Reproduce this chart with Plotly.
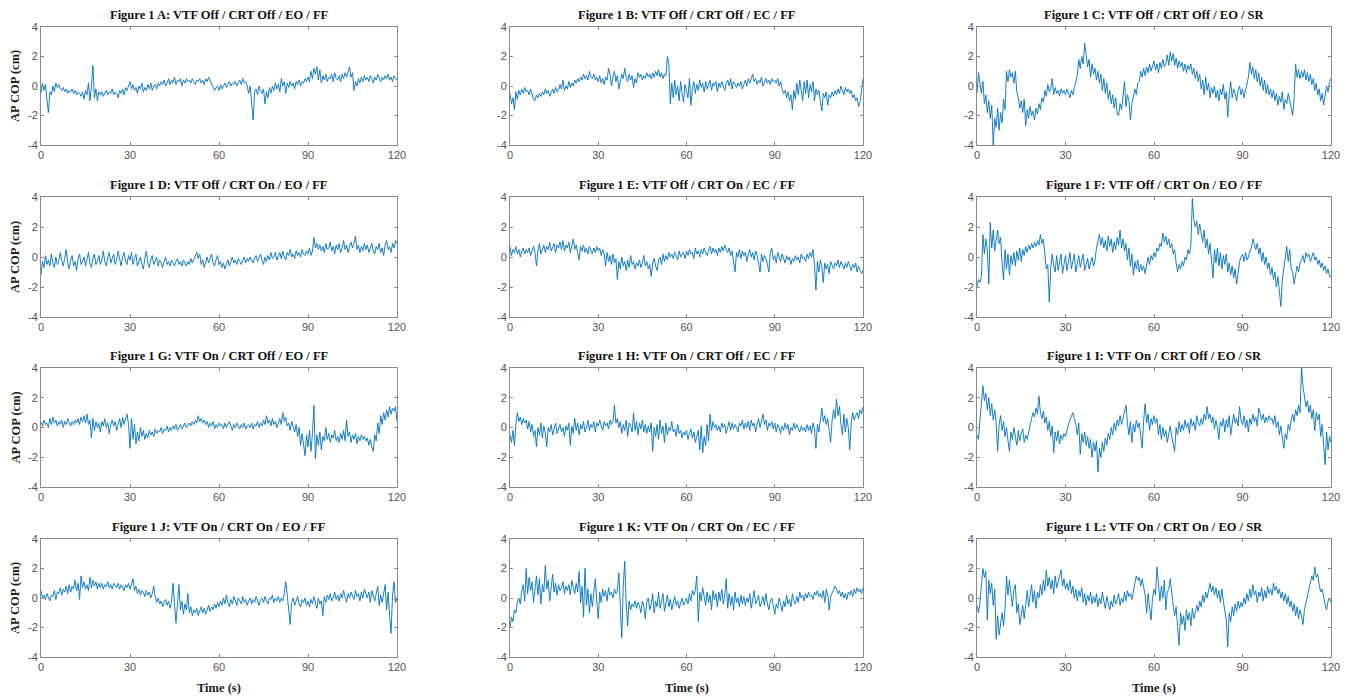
import numpy as np
import plotly.graph_objects as go

# ---------------- data (AP COP in cm, sampled every 0.5 s over 0-120 s) ----------------
titles = [
    "Figure 1 A: VTF Off / CRT Off / EO / FF",
    "Figure 1 B: VTF Off / CRT Off / EC / FF",
    "Figure 1 C: VTF Off / CRT Off / EO / SR",
    "Figure 1 D: VTF Off / CRT On / EO / FF",
    "Figure 1 E: VTF Off / CRT On / EC / FF",
    "Figure 1 F: VTF Off / CRT On / EO / FF",
    "Figure 1 G: VTF On / CRT Off / EO / FF",
    "Figure 1 H: VTF On / CRT Off / EC / FF",
    "Figure 1 I: VTF On / CRT Off / EO / SR",
    "Figure 1 J: VTF On / CRT On / EO / FF",
    "Figure 1 K: VTF On / CRT On / EC / FF",
    "Figure 1 L: VTF On / CRT On / EO / SR",
]

cop_A = [
    -0.5, 0.2, -0.3, 0.1, -0.9, -1.8, -0.4, -0.6, 0.0, -0.4, 0.2, -0.1, 0.1, -0.2, -0.3, -0.1, -0.4, -0.2, -0.5, -0.3,
    -0.4, -0.2, -0.5, -0.3, -0.6, -0.4, -0.5, -0.7, -0.4, -0.9, -0.3, -0.6, 0.2, -1.0, 0.0, 1.4, -0.8, -0.2, -1.0, -0.4,
    -0.6, -0.4, -0.7, -0.5, -0.3, -0.6, -0.4, -0.5, -0.2, -0.6, -0.4, -0.5, -0.8, -0.3, -0.5, -0.2, -0.6, -0.1, -0.3, 0.0,
    0.3, -0.2, 0.1, -0.3, -0.1, -0.5, 0.0, -0.2, 0.2, -0.4, -0.1, -0.3, 0.1, -0.2, 0.2, -0.3, 0.0, 0.1, -0.2, 0.2,
    0.0, 0.3, 0.1, 0.4, 0.0, 0.2, 0.5, 0.1, 0.4, 0.2, 0.6, 0.1, 0.4, 0.3, 0.5, 0.0, 0.4, 0.2, 0.5, 0.3,
    0.4, 0.2, 0.5, 0.3, 0.1, 0.4, 0.3, 0.5, 0.2, 0.4, 0.1, 0.5, 0.3, 0.6, 0.4, 0.2, -0.1, -0.3, -0.1, 0.0,
    -0.3, 0.1, -0.2, 0.0, 0.2, -0.1, 0.1, 0.3, 0.0, 0.2, 0.1, 0.3, 0.0, 0.2, 0.4, 0.1, 0.5, 0.2, 0.3, 0.0,
    -0.5, 0.0, -1.0, -2.3, -0.4, -0.2, -0.6, 0.0, -0.3, -0.5, -0.2, -1.2, -0.4, -0.8, -0.1, -0.5, 0.0, -0.3, 0.2, -0.2,
    0.1, -0.4, 0.5, 0.0, 0.3, -0.5, 0.2, -0.1, 0.3, 0.0, 0.2, -0.2, 0.3, 0.1, 0.4, 0.0, 0.3, 0.2, 0.5, 0.3,
    0.6, 0.3, 1.0, 0.5, 1.2, 0.8, 1.3, 0.4, 1.1, 0.2, 0.7, 0.4, 0.8, 0.3, 0.6, 0.5, 0.8, 0.3, 0.9, 0.5,
    0.4, 0.7, 0.3, 0.8, 0.5, 0.9, 0.6, 1.0, 1.3, 0.6, 0.9, -0.3, 0.3, 0.0, 0.5, 0.2, 0.6, 0.3, 0.7, 0.4,
    0.6, 0.3, 0.7, 0.5, 0.2, 0.6, 0.4, 0.8, 0.5, 0.3, 0.6, 0.4, 0.7, 0.5, 0.8, 0.4, 0.6, 0.3, 0.7, 0.5,
    0.4,
]

cop_B = [
    -0.5, -1.2, -0.8, -1.6, -0.4, -0.9, -0.3, -0.6, -0.2, -0.5, -0.1, -0.4, -0.3, -0.6, -0.2, -0.5, -0.9, -1.0, -0.6, -0.8,
    -0.5, -0.7, -0.4, -0.6, -0.2, -0.5, -0.3, -0.7, -0.4, -0.2, -0.5, -0.1, -0.4, -0.3, 0.1, -0.2, 0.4, -0.3, 0.0, -0.2,
    0.3, -0.1, 0.2, 0.0, 0.4, 0.2, 0.5, 0.3, 0.6, 0.4, 0.8, 0.5, 0.7, 0.4, 1.0, 0.6, 0.5, 0.8, 0.4, 0.6,
    0.3, 0.7, 0.2, 0.5, 0.1, 0.6, 0.4, 1.2, 0.8, 0.0, 0.6, 1.0, 0.3, 0.7, -0.2, 0.4, 0.8, 0.5, 1.2, 0.6,
    0.3, 0.8, 0.4, 0.7, -0.1, 0.5, 0.2, 0.9, 0.6, 0.8, 0.4, 0.7, 0.5, 0.9, 0.6, 0.8, 0.5, 0.9, 0.6, 1.0,
    0.7, 1.1, 0.6, 0.9, 0.5, 0.8, 0.7, 2.0, 1.5, -1.2, 0.2, -0.8, 0.4, -0.6, 0.0, -1.0, 0.3, -0.5, -1.1, 0.1,
    -0.4, -0.8, 0.5, -1.3, -0.2, 0.3, -0.5, 0.1, -0.3, 0.4, -0.1, 0.2, -0.4, 0.3, -0.2, 0.1, 0.4, -0.3, 0.2, 0.0,
    0.3, -0.4, 0.2, -0.1, 0.3, 0.0, -0.3, 0.2, 0.4, 0.0, 0.5, -0.2, 0.3, 0.1, -0.1, 0.2, 0.0, 0.3, -0.2, 0.1,
    0.4, 0.0, 0.5, 0.2, 0.6, 0.8, 0.3, 0.5, 0.1, 0.4, 0.2, 0.6, 0.0, 0.3, 0.5, 0.2, 0.4, 0.1, 0.5, 0.3,
    0.4, 0.2, 0.5, 0.0, 0.3, -0.2, -0.5, -0.3, -0.8, -0.4, -1.0, -0.6, -1.6, -0.3, -0.9, 0.2, -0.6, 0.4, -0.4, -1.0,
    0.3, -0.5, 0.4, -0.8, 0.1, -0.4, 0.3, -1.0, -0.2, -0.6, -0.3, -0.9, -1.7, -0.5, -0.8, -0.4, -1.3, -0.6, -0.8, -0.4,
    -0.7, -0.3, -0.6, -0.2, -0.5, 0.0, -0.3, -0.6, -0.1, -0.4, -0.2, -0.5, -0.3, -0.8, -0.6, -1.0, -0.8, -1.4, -1.1, -0.2,
    0.5,
]

cop_C = [
    -0.5, 0.9, 0.2, -0.5, 0.3, -1.2, -0.6, -1.8, -1.0, -2.2, -1.3, -4.0, -2.2, -2.8, -1.5, -3.0, -1.8, -2.5, -0.9, -1.6,
    1.0, 0.3, 1.1, 0.6, 0.9, 0.2, 1.0, -0.4, -0.8, -1.5, -1.0, -1.8, -0.9, -2.7, -1.6, -2.2, -1.4, -2.0, -1.7, -2.3,
    -1.5, -1.9, -1.2, -1.6, -0.8, -1.1, -0.3, -0.7, 0.1, -0.4, -0.2, 0.5, -0.6, -0.1, -0.5, -0.3, -0.7, -0.2, -0.5, -0.3,
    -0.6, -0.2, -0.5, -0.8, -0.3, -0.6, -0.1, 0.3, 0.7, 1.8, 1.2, 2.0, 1.5, 2.9, 2.0, 1.3, 1.8, 0.6, 1.5, 0.8,
    1.2, 0.4, 1.0, 0.2, 0.8, -0.3, 0.5, -0.5, 0.2, -0.9, -0.3, -1.2, -0.6, -1.5, -0.8, -1.8, -2.0, -1.2, -1.6, -0.8,
    0.3, -1.4, -0.6, -1.0, -2.3, -1.2, -0.8, -0.2, -0.6, 0.2, 0.3, 1.0, 0.6, 1.2, 0.7, 1.3, 0.9, 1.5, 1.0, 1.4,
    1.7, 1.1, 1.5, 0.9, 1.6, 1.2, 1.8, 1.3, 1.5, 2.1, 1.4, 2.3, 1.7, 2.2, 1.4, 1.9, 1.2, 1.7, 1.3, 1.6,
    1.0, 1.5, 0.9, 1.4, 1.1, 1.5, 0.8, 1.2, 0.5, 1.0, 0.3, 0.8, -0.2, 0.4, -0.6, 0.6, -0.3, 0.2, -0.8, -0.1,
    -0.5, 0.0, -0.8, -0.3, -1.0, -0.2, -0.6, 0.1, -0.9, -0.4, -2.1, -0.6, 0.3, -0.8, -0.2, -0.5, -1.0, -0.3, 0.0, -0.6,
    -0.2, -0.8, -0.4, 0.2, 0.6, 1.6, 0.8, 1.3, 0.5, 1.1, 0.3, 0.9, 0.0, 0.6, -0.3, 0.4, -0.5, 0.1, -0.6, -0.2,
    -0.8, -0.3, -1.0, -0.5, -1.3, -0.7, -1.1, -0.4, -1.6, -0.9, -1.2, -0.5, -1.0, -1.4, -2.0, -0.8, 1.5, 0.6, 1.1, 0.5,
    1.0, 0.6, 1.1, 0.4, 0.9, 0.3, 0.8, 0.1, 0.5, -0.3, 0.2, -0.6, -0.2, -1.0, -0.5, -1.3, -0.6, 0.0, -0.4, 0.3,
    0.5,
]

cop_D = [
    -1.2, -0.3, -0.7, 0.1, -0.5, -0.2, -0.6, 0.2, -0.4, -0.7, 0.0, -0.5, -0.3, 0.3, -0.2, -0.6, -0.1, 0.5, -0.4, -0.8,
    -0.2, 0.1, -0.6, -0.3, -0.9, -0.1, 0.2, -0.5, -0.3, 0.0, -0.6, -0.2, 0.3, -0.4, -0.7, -0.1, 0.2, -0.5, -0.3, 0.1,
    -0.5, -0.2, 0.4, -0.3, -0.6, 0.0, 0.3, -0.4, -0.1, 0.2, -0.5, -0.2, 0.4, -0.1, -0.6, 0.0, 0.3, -0.3, -0.5, 0.1,
    -0.2, 0.3, -0.5, -0.1, 0.2, -0.6, -0.3, 0.0, -0.5, -0.8, -0.1, 0.4, -0.4, -0.7, -0.2, 0.1, -0.5, -0.3, 0.0, -0.6,
    -0.2, -0.4, -0.7, -0.3, 0.0, -0.5, -0.3, -0.6, -0.2, -0.4, -0.6, -0.3, -0.1, -0.5, -0.3, -0.6, -0.2, -0.4, -0.6, -0.3,
    -0.5, -0.1, -0.4, -0.2, 0.0, 0.3, -0.1, 0.2, -0.5, -0.2, -0.7, -0.3, 0.0, -0.4, -0.1, 0.2, -0.4, -0.6, -0.2, 0.1,
    -0.5, -0.3, -0.7, -0.4, -0.8, -0.5, -0.2, -0.6, -0.3, 0.0, -0.4, -0.2, -0.5, -0.1, -0.3, -0.5, -0.2, 0.0, -0.4, -0.1,
    -0.3, 0.0, -0.2, -0.4, -0.1, 0.1, -0.3, -0.1, 0.2, -0.2, -0.5, 0.0, -0.3, 0.1, -0.2, 0.3, -0.1, 0.0, 0.3, -0.2,
    0.1, 0.3, -0.1, 0.4, 0.0, -0.2, 0.3, 0.1, 0.5, 0.0, 0.2, -0.1, 0.4, 0.1, 0.3, 0.0, 0.5, 0.2, 0.1, 0.4,
    0.2, 0.6, 0.1, 0.4, 1.3, 0.6, 0.9, 0.5, 0.8, 0.4, 0.7, 0.3, 0.9, 0.5, 0.6, 1.0, 0.4, 0.7, 0.2, 0.8,
    0.5, 0.9, 0.3, 0.6, 1.1, 0.5, 0.8, 0.3, 0.7, 1.0, 0.6, 0.9, 1.4, 0.5, 0.8, 0.3, 0.7, 0.4, 0.9, 0.5,
    0.8, 0.3, 0.6, 0.9, 0.4, 0.2, 0.7, 0.5, 0.9, 0.3, 0.6, 0.1, 0.8, 1.1, 0.5, 0.7, 0.3, 0.9, 0.6, 1.1,
    0.9,
]

cop_E = [
    0.7, 0.1, 0.5, 0.3, 0.7, 0.2, 0.5, 0.0, 0.4, 0.6, 0.2, 0.5, 0.3, 0.6, 0.1, 0.4, 0.7, 0.3, -0.6, 0.4,
    0.9, 0.2, 0.6, 0.8, 0.3, 0.7, 0.5, 1.0, 0.4, 0.7, 0.9, 0.3, 0.8, 0.6, 1.0, 0.5, 1.1, 0.4, 0.8, 0.6,
    1.0, 0.3, 0.7, 1.2, 0.5, 0.8, 0.3, -0.2, 0.7, 0.4, 0.8, 0.3, 0.6, 0.2, 0.7, 0.5, 0.2, 0.6, 0.3, 0.7,
    0.4, 0.6, 0.1, 0.5, 0.2, -0.6, 0.3, -0.3, 0.1, -0.5, 0.2, -0.4, -0.1, -1.5, -0.3, -0.8, 0.0, -0.6, -0.3, -0.9,
    -0.2, -0.7, 0.1, -0.5, -0.3, -0.8, -0.4, -0.6, -0.2, -0.7, -0.4, 0.1, -0.6, -0.3, -0.8, -0.5, -1.3, -0.4, -0.1, -0.6,
    -0.9, -0.2, 0.0, -0.5, 0.2, -0.3, 0.1, -0.2, 0.3, 0.0, 0.2, -0.1, 0.3, 0.1, -0.2, 0.4, 0.0, 0.2, 0.3, -0.1,
    0.4, 0.1, 0.5, 0.2, 0.3, -0.1, 0.6, 0.2, 0.4, 0.0, 0.5, 0.2, 0.6, 0.3, 0.1, 0.5, 0.7, 0.2, 0.6, 0.3,
    0.5, 0.1, 0.6, 0.3, 0.7, 0.4, 0.8, 0.5, 0.3, 0.6, 0.1, 0.4, -0.2, -1.0, 0.3, 0.0, 0.5, -0.1, 0.4, 0.1,
    0.3, -0.3, 0.2, 0.5, 0.0, 0.3, -0.2, 0.4, 0.1, -0.4, -1.0, 0.2, -0.3, 0.1, -0.1, -0.5, -1.0, 0.3, 0.6, -0.2,
    0.1, -0.4, 0.3, 0.0, -0.3, 0.2, -0.1, -0.4, 0.1, -0.2, 0.0, -0.5, -0.1, -0.3, 0.1, -0.2, 0.0, -0.4, 0.2, -0.1,
    0.0, -0.3, 0.2, -0.1, 0.3, 0.0, 0.5, -0.5, -2.2, -0.3, -1.0, -0.2, -0.7, -1.7, -0.4, -0.8, -0.5, -1.1, -0.3, -0.6,
    -0.8, -0.4, -0.6, -0.2, -0.7, -0.3, -0.5, -0.8, -0.4, -0.7, -0.3, -0.6, -0.9, -0.5, -0.7, -0.4, -1.0, -0.6, -0.8, -1.1,
    -0.9,
]

cop_F = [
    -2.0, -1.5, -1.7, -1.3, 1.5, 0.2, 1.2, 0.5, -1.8, 2.3, 0.6, 1.8, 0.4, 1.3, 1.8, 0.9, 1.3, -0.4, -1.5, 0.5,
    -0.8, 0.2, -1.2, 0.1, -0.5, 0.3, -0.6, 0.4, -0.2, 0.6, -0.3, 0.5, 0.1, 0.7, 0.3, 0.8, 0.5, 0.9, 0.6, 1.0,
    0.7, 1.1, 0.8, 1.5, 0.9, 1.2, 0.3, -0.8, -0.5, -3.0, -0.7, 0.2, -0.6, -1.0, 0.1, -0.9, -0.3, 0.2, -1.1, -0.4,
    0.1, -0.9, -0.3, 0.3, -0.8, -0.4, 0.2, -1.0, -0.5, 0.1, -0.7, -0.2, 0.2, -0.9, -0.4, -0.1, -0.8, -0.3, 0.0, -0.6,
    -0.2, 0.6, 1.2, 1.5, 0.8, 1.3, 0.6, 1.1, 0.4, 1.4, 0.7, 1.2, 0.3, 1.0, 0.5, 1.3, 0.8, 1.8, 0.6, 1.2,
    0.4, 0.9, -0.2, 0.6, -0.6, 0.2, -1.2, -0.3, -0.8, -0.2, -1.0, -0.5, -0.9, -0.6, -1.1, -0.4, 0.0, -0.5, 0.1, -0.2,
    0.3, 0.0, 0.6, 0.4, 0.9, 0.7, 1.6, 1.0, 1.4, 0.8, 1.2, 0.6, 0.9, 0.2, 0.5, -0.4, -1.0, -0.5, -0.8, -0.3,
    -0.6, 0.0, -0.2, 0.5, 0.2, 0.8, 3.9, 2.5, 2.0, 2.4, 1.5, 2.2, 1.6, 1.0, 1.8, 0.6, 1.2, 0.2, 0.9, -0.3,
    -1.4, 0.5, -0.4, 0.6, -0.6, 0.3, -0.8, 0.1, -0.5, 0.2, -1.0, -0.4, -1.2, -0.6, -1.4, -0.8, -1.8, -1.1, -0.3, 0.0,
    0.2, -0.3, 0.3, -0.2, 0.0, 0.4, 0.6, 1.2, 0.8, 0.5, 0.9, 0.2, 0.6, -0.3, 0.3, -0.5, 0.0, -0.8, -0.4, -1.2,
    -0.7, -1.5, -1.0, -2.0, -1.3, -2.5, -3.3, -1.5, -0.8, 0.0, 0.7, -0.3, 0.5, -0.8, -1.0, -1.8, -1.2, -0.6, -1.0, -0.4,
    -0.2, 0.1, -0.4, 0.3, 0.0, 0.2, -0.3, 0.1, 0.3, -0.2, 0.0, -0.5, -0.2, -0.7, -0.4, -0.9, -0.6, -1.1, -0.8, -1.3,
    -1.3,
]

cop_G = [
    0.4, 0.1, 0.5, 0.2, 0.3, 0.0, 0.6, 0.2, 0.7, 0.3, 0.5, 0.1, 0.4, 0.2, 0.5, 0.0, 0.4, 0.2, 0.6, 0.3,
    0.1, 0.4, 0.2, 0.5, 0.3, 0.6, 0.2, 0.7, 0.4, 0.8, 0.3, 0.9, 0.2, 0.5, -0.7, 0.6, -0.2, 0.4, 0.0, 0.3,
    -0.3, 0.4, 0.1, 0.6, 0.0, 0.3, -0.4, 0.2, 0.5, 0.1, 0.4, -0.2, 0.3, 0.6, 0.0, 0.7, 0.2, 0.5, 0.9, 0.2,
    -1.4, 0.6, -0.8, 0.2, -1.1, -0.3, -0.9, 0.0, -0.6, -0.2, -0.8, -0.4, -0.7, -0.2, -0.5, -0.3, -0.6, -0.1, -0.4, -0.2,
    -0.3, 0.0, -0.4, -0.1, -0.2, 0.1, -0.3, 0.0, -0.2, 0.1, -0.1, 0.2, -0.2, 0.0, 0.2, -0.1, 0.1, 0.3, 0.0, 0.2,
    0.3, 0.1, 0.4, 0.2, 0.5, 0.3, 0.8, 0.4, 0.6, 0.3, 0.5, 0.2, 0.4, 0.0, 0.3, 0.1, 0.4, -0.1, 0.2, 0.0,
    0.3, 0.1, 0.2, -0.1, 0.3, 0.0, 0.2, 0.4, 0.1, -0.2, 0.2, 0.0, 0.3, 0.1, -0.1, 0.2, 0.0, 0.3, -0.1, 0.1,
    0.2, 0.0, 0.3, -0.1, 0.2, 0.1, 0.4, 0.0, 0.3, 0.1, 0.5, 0.2, 0.8, 0.3, 0.5, 0.1, 0.6, 0.2, 0.4, 0.0,
    0.3, 0.6, 0.2, 1.0, 0.4, 0.7, 0.1, 0.3, -0.2, 0.4, 0.1, -0.3, 0.2, -0.6, 0.0, -1.2, -0.4, -1.0, -1.9, -0.5,
    -1.3, -0.2, -1.6, -0.4, 1.5, -2.1, -0.5, -1.2, -0.3, -1.5, -0.6, -0.9, 0.0, -0.8, -0.4, -1.0, -0.5, -0.7, -0.2, -0.9,
    -0.6, -1.0, -0.4, -0.8, -0.2, -0.9, 0.5, -0.6, -0.3, -1.0, -0.5, -0.8, -0.4, -1.1, -0.6, -0.9, -0.5, -0.8, -0.6, -0.9,
    -0.7, -1.2, -0.8, -1.3, -1.6, -0.5, -0.9, 0.3, -0.4, 0.8, 0.2, 1.0, 0.5, 1.2, 0.7, 1.4, 0.9, 1.3, 1.1, 1.4,
    0.4,
]

cop_H = [
    -0.5, -1.0, -0.2, -1.2, 0.2, 1.0, 0.4, 0.7, 0.2, 0.6, 0.3, 0.5, -0.1, 0.4, -0.3, 0.2, -0.6, -0.2, -1.3, 0.0,
    -0.5, 0.3, -0.7, 0.1, -0.4, -1.3, 0.0, -0.3, 0.2, -0.5, -0.1, 0.3, -0.4, -0.1, 0.2, -0.3, 0.0, -0.6, 0.1, -0.2,
    0.3, -1.2, 0.1, -0.4, 0.6, -0.2, 0.3, -0.5, 0.2, -0.1, 0.4, -0.3, 0.0, 0.5, -0.2, 0.2, 0.0, 0.4, -0.3, 0.3,
    0.1, 0.5, 0.2, -0.2, 0.4, 0.1, 0.3, -0.1, 0.5, 0.2, 0.4, 1.5, 0.3, 0.6, 0.0, 0.4, -0.4, 0.2, -0.2, 0.5,
    -0.6, 0.3, 0.1, -0.3, 1.0, -0.2, 0.4, -0.5, 0.3, -0.1, 0.5, -0.3, 0.2, -0.4, 0.1, -0.3, 0.3, -1.6, 0.0, -0.6,
    0.2, -0.8, 0.5, -0.4, 0.1, -1.0, 0.3, -0.5, 0.0, -0.2, 0.4, -0.3, -0.1, -0.6, 0.2, -0.4, -0.2, -0.7, -0.3, -0.5,
    -0.2, -0.8, -0.4, -0.1, -0.7, -0.3, -1.0, -0.5, -0.2, -1.5, 0.1, -1.7, -0.6, -1.2, 0.2, -0.9, 0.9, -0.2, 0.4, 0.0,
    0.2, -0.2, 0.1, -0.3, 0.3, 0.0, 0.2, -0.4, 0.1, 0.4, -0.2, 0.3, -0.1, 0.2, 0.0, -0.3, 0.3, 0.1, 0.5, -0.1,
    0.3, 0.0, 0.4, -0.2, 0.5, 0.1, 0.3, -0.3, 0.2, 0.6, 0.0, 0.4, 0.9, 0.2, 0.5, -0.2, 0.3, 0.1, 0.4, -0.1,
    0.3, -0.3, 0.2, 0.0, -0.4, 0.1, -0.2, 0.3, -0.1, 0.2, -0.5, 0.0, -0.2, 0.3, -0.1, 0.2, 0.0, -0.3, 0.1, -0.2,
    0.0, -0.3, 0.2, -0.2, 0.1, -0.4, 0.3, -0.1, -1.4, 0.2, -0.3, 0.6, 1.3, 0.4, 0.8, 0.2, 0.6, -0.2, -1.0, 0.5,
    1.2, 0.6, 1.9, 0.8, 1.4, 0.2, -0.5, 0.9, -0.3, 0.6, 0.0, -1.5, 0.3, 1.0, 0.5, 0.8, 1.0, 0.6, 1.2, 0.9,
    1.4,
]

cop_I = [
    -0.5, -0.8, 0.5, 1.5, 2.8, 1.8, 2.3, 1.2, 2.0, 0.8, 1.6, 0.5, 1.2, 0.3, -1.6, 0.2, 0.8, -0.2, 0.4, -0.6,
    0.0, -0.9, -1.6, -0.3, -0.8, 0.0, -0.5, -1.2, -0.2, -0.9, -0.4, -0.1, -1.0, -0.5, -0.8, -0.3, 0.3, 0.6, 1.0, 0.7,
    1.3, 0.9, 2.1, 1.0, 0.6, 1.1, 0.3, 0.7, -0.2, 0.4, -0.6, 0.1, -1.7, -0.3, -0.9, -0.2, -1.1, -0.5, -0.8, -0.4,
    -0.6, -0.1, 0.2, 0.5, 0.8, 1.0, 0.6, 0.2, -0.5, 0.3, -1.8, -0.4, -1.0, -0.3, -1.2, -0.6, -1.4, -0.8, -2.0, -1.0,
    -1.6, -0.9, -3.0, -1.4, -2.0, -1.0, -1.6, -0.7, -1.2, -0.4, -0.8, 0.0, -0.5, 0.3, -0.2, 0.5, 0.1, 0.8, 0.2, 0.6,
    1.0, 1.5, 0.3, -0.5, 0.4, -1.0, 0.2, -0.3, 0.5, 0.0, 0.3, -0.4, -1.4, 0.5, 1.6, 0.3, 0.9, -0.2, 0.6, 0.2,
    0.8, 0.3, 0.6, -0.5, 0.2, -0.8, 0.0, -0.6, -0.2, -1.0, -0.4, 0.1, -0.6, -1.0, -1.6, 0.0, -0.5, 0.4, -0.3, 0.2,
    -0.2, 0.5, 0.0, 0.3, -0.4, 0.6, 0.1, 0.4, -0.2, 0.8, 0.3, 0.1, 0.6, 0.2, 0.9, 0.5, 1.4, 0.6, 0.9, 0.3,
    0.7, -0.1, 0.5, 0.0, -0.8, 0.4, 0.1, 0.6, -0.3, 0.5, 0.0, 0.8, -0.5, 0.2, 0.9, 0.3, 0.6, 0.1, 1.4, 0.5,
    0.2, 0.8, 0.0, 0.5, -0.3, 0.6, 0.2, 0.9, 0.4, 0.7, 0.1, 1.3, 0.8, 0.5, 0.9, 0.3, 0.7, 0.4, 0.8, 0.5,
    0.6, 0.2, 0.8, 0.0, 0.4, -0.5, 0.1, -0.8, -1.4, -0.4, -0.8, 0.2, -0.2, 0.5, 0.9, 0.4, 1.2, 0.8, 1.5, 1.0,
    4.0, 2.8, 2.0, 1.4, 1.8, 1.0, 1.5, 0.6, 1.2, -0.2, 1.0, 0.5, 0.9, -0.6, 0.2, -1.2, -2.5, -0.3, -1.5, -0.6,
    -1.0,
]

cop_J = [
    0.5, 0.0, 0.2, -0.1, 0.3, 0.0, -0.2, 0.2, 0.1, 0.5, -0.1, 0.4, 0.3, 0.7, 0.2, 0.6, 0.4, 0.8, 0.3, 0.9,
    0.4, 0.8, 0.6, 1.2, 0.5, 1.0, -0.1, 1.5, 0.7, 1.1, 0.6, 0.9, 0.5, 1.4, 0.7, 1.2, 0.8, 1.1, 0.6, 1.0,
    0.7, 1.0, 0.6, 0.9, 0.8, 1.1, 0.7, 0.9, 0.6, 1.0, 0.8, 0.7, 1.0, 0.6, 0.9, 0.7, 0.5, 0.9, 0.7, 1.0,
    0.6, 0.9, 1.3, 0.5, 0.8, 0.3, 0.6, 0.2, 0.5, 0.4, 0.1, 0.5, 0.2, 0.4, 0.0, 0.3, 0.8, 0.1, -0.3, 0.0,
    -0.4, -0.2, -0.6, -0.3, -0.1, -0.5, -0.2, -0.7, -0.3, 1.0, -0.5, -1.7, -0.4, 0.9, -0.8, -0.2, -1.1, -0.4, -0.8, 0.3,
    -1.0, -0.6, -1.2, -0.8, -1.0, -0.7, -1.2, -0.9, -0.6, -1.0, -0.7, -1.1, -0.8, -0.5, -0.9, -0.6, -0.8, -0.4, -0.7, -0.3,
    -0.6, -0.2, -0.5, 0.0, -0.4, 0.2, -0.3, -0.6, -0.1, -0.4, 0.1, -0.3, -0.5, 0.0, -0.2, -0.4, 0.1, -0.3, -0.1, -0.5,
    -0.2, 0.0, -0.4, -0.1, -0.3, 0.1, -0.2, -0.5, -0.1, 0.0, -0.3, 0.1, -0.2, -0.4, 0.0, -0.1, 0.2, -0.3, 0.0, -0.2,
    0.1, -0.3, 0.0, -0.2, 0.3, 1.1, 0.2, -1.0, -1.8, -0.3, 0.0, -0.5, -0.2, 0.1, -0.4, -0.6, -0.1, -0.3, 0.0, -0.5,
    -0.2, -0.6, -0.1, -0.4, 0.1, -0.3, -0.7, 0.0, -0.4, -0.2, -1.2, 0.1, -0.3, 0.2, -0.1, 0.3, -0.2, 0.0, 0.4, -0.1,
    0.2, -0.2, 0.3, 0.0, 0.5, 0.1, -0.3, 0.3, 0.0, 0.4, 0.2, -0.1, 0.5, 0.1, 0.3, -0.2, 0.4, 0.0, 0.6, 0.2,
    0.0, 0.4, -0.3, 0.5, 0.1, -0.2, 0.3, 0.8, -0.5, 0.2, -0.3, 0.5, 0.9, -0.8, 0.4, -1.2, -2.4, 0.2, 1.1, -0.3,
    0.0,
]

cop_K = [
    -2.0, -1.3, -1.6, -0.8, -1.0, -0.3, 0.0, -0.4, 0.5, 0.9, -0.2, 2.0, 0.3, 1.4, 0.5, 1.1, -0.3, 0.8, 1.5, 0.2,
    1.3, -0.4, 0.9, 0.4, 2.2, 0.6, 1.2, -0.2, 0.8, 1.6, 0.4, 1.0, 0.2, 0.9, 0.5, 0.7, 1.1, 0.3, 0.8, 0.5,
    0.9, 0.2, 1.2, 0.6, 0.3, 1.0, 0.4, 1.8, -0.3, 0.8, -1.3, 2.0, -0.5, 0.6, -1.0, 0.3, -0.6, 0.4, 1.3, -0.2,
    -1.4, 0.4, -0.3, 0.6, 0.1, 0.5, -0.2, 0.7, 0.2, 0.4, 0.0, 0.6, 0.3, 0.5, 1.7, -0.5, -2.7, 0.8, 2.5, -0.4,
    -1.9, -0.2, -0.8, -0.4, -0.6, -0.2, -0.7, -0.3, -0.5, -1.0, -0.2, -0.6, -1.4, -0.3, 0.0, -0.8, -0.4, 0.3, -1.0, -0.2,
    -0.6, 0.4, -0.7, -0.2, 0.3, -0.9, -0.4, 0.2, -0.6, -0.1, -0.8, -0.3, 0.1, -0.5, -0.2, -0.7, -0.4, 0.0, -0.5, -0.2,
    0.0, -0.4, 0.3, -0.2, 0.5, 0.2, 0.6, 1.5, -1.6, 0.4, -0.2, 0.7, 0.0, -0.5, 0.4, -0.3, 0.2, -0.8, 0.5, -0.1,
    0.3, -0.6, 0.4, -0.2, 0.6, -0.4, 0.2, 1.3, -0.7, 0.3, -0.5, 0.1, -0.8, 0.4, -0.3, 0.0, -0.6, 0.2, -0.4, 0.1,
    -0.5, 0.0, -0.3, 0.3, -0.7, -0.1, 0.5, -0.4, -0.2, 0.2, -0.6, -0.3, 0.1, -0.5, 0.3, -0.4, -0.8, -0.2, 0.0, -0.5,
    -1.1, -0.4, -0.7, 0.0, -0.5, -0.9, -0.2, -0.6, 0.2, -0.4, -0.1, -0.6, 0.3, -0.2, -0.4, 0.1, -0.3, 0.4, 0.0, 0.2,
    -0.2, 0.3, 0.0, 0.4, 0.1, 0.2, -0.1, 0.4, 0.2, 0.5, 0.1, 0.3, 0.0, 0.5, -0.3, 0.6, 0.2, -0.8, 0.1, 0.3,
    0.5, 0.8, 0.6, 0.3, 0.5, 0.1, 0.4, 0.0, 0.3, -0.1, 0.4, 0.2, 0.5, 0.1, 0.6, 0.3, 0.7, 0.4, 0.6, 0.3,
    0.7,
]

cop_L = [
    -0.5, -1.0, -0.3, 0.8, 2.0, 1.4, 1.8, -1.5, 1.2, 0.3, 1.0, -0.5, 0.6, -2.8, -1.2, -2.5, -1.6, -1.0, -1.9, -0.8,
    1.5, 0.2, 1.2, 0.0, -0.6, 0.6, 0.9, -1.0, -0.4, -1.8, -1.2, -0.5, -1.4, -0.2, 0.5, -0.6, 0.2, 0.9, -0.3, 0.5,
    -0.7, 0.4, 0.0, 0.9, 0.2, 1.2, 0.5, 1.9, 0.8, 1.4, 0.6, 1.2, 0.3, 1.5, 0.7, 1.1, 1.6, 1.9, 0.8, 1.3,
    0.6, 1.0, 0.5, 1.2, 0.3, 0.8, 0.0, 0.6, -0.2, 0.5, 0.1, 0.7, -0.3, 0.3, -0.5, 0.2, -0.2, 0.4, -0.4, 0.1,
    -0.3, 0.3, -0.6, 0.0, -0.4, 0.4, -0.2, -0.7, 0.1, -0.5, -0.8, -0.2, -0.6, 0.2, -0.4, -0.1, 0.3, -0.5, 0.0, -0.3,
    0.4, -0.2, 0.5, 0.1, 0.3, -0.1, 0.6, 1.0, 1.5, 1.2, 1.4, 0.8, 1.3, 0.6, 0.2, -1.0, 0.3, -0.6, -1.5, 0.0,
    0.6, 0.2, 2.1, 1.0, -0.2, 0.8, 0.0, 1.2, -0.8, 0.4, 0.6, 1.3, 0.2, -0.5, -1.2, -0.6, -2.0, -3.2, -1.0, -1.8,
    -1.2, -2.2, -0.8, -1.5, -1.0, -1.9, -0.7, -1.4, -1.0, -0.5, -0.9, -0.2, -0.6, 0.2, -0.3, 0.4, 0.0, 0.6, 1.0, 0.4,
    0.8, 0.2, 0.7, 0.0, 0.5, -0.3, 0.6, -0.2, -1.0, -1.5, -3.3, -1.0, -1.6, -0.6, -1.2, -0.4, -0.9, -0.2, -0.7, -0.3,
    -0.6, 0.0, -0.4, 0.3, -0.2, 0.6, 0.0, 0.9, 0.2, 0.5, -0.3, 0.4, 0.1, 0.7, -0.2, 0.5, 0.0, 0.8, 0.3, 0.6,
    0.2, 1.0, 0.5, 0.8, 0.3, 0.6, 0.0, 0.4, -0.2, 0.3, -0.4, 0.1, -0.6, -0.2, -0.9, -0.4, -1.2, -0.6, -1.4, -0.8,
    -1.2, -1.8, -0.8, -0.3, 0.2, 0.6, 1.0, 1.5, 1.2, 2.1, 1.4, 1.6, 0.9, 0.4, 0.6, 0.0, -0.4, -0.8, -0.2, 0.0,
    -0.3,
]

series = [cop_A, cop_B, cop_C, cop_D, cop_E, cop_F, cop_G, cop_H, cop_I, cop_J, cop_K, cop_L]

x_ticks = [0, 30, 60, 90, 120]
x_ticktext = ["0", "30", "60", "90", "120"]
y_ticks = [-4, -2, 0, 2, 4]
y_ticktext = ["-4", "-2", "0", "2", "4"]
y_label = "AP COP (cm)"
x_label = "Time (s)"

# ---------------- layout geometry (pixels) ----------------
W, H = 1356, 700
cols_px = [(41, 397), (510, 863), (977, 1331)]
rows_px = [(27, 145), (197, 317), (368, 487), (539, 657)]

LINE_COLOR = "#0072BD"
AXIS_COLOR = "#8a8a8a"
TICK_FONT = dict(family="Liberation Sans, Arial, sans-serif", size=11, color="#555555")
SERIF_BOLD = "Liberation Serif, Times New Roman, serif"

fig = go.Figure()
layout = dict(
    width=W, height=H,
    margin=dict(l=0, r=0, t=0, b=0, autoexpand=False),
    paper_bgcolor="white", plot_bgcolor="white",
    showlegend=False,
)
annotations = []

for i, (title, vals) in enumerate(zip(titles, series)):
    r, c = divmod(i, 3)
    x0, x1 = cols_px[c]
    y0, y1 = rows_px[r]
    t = np.linspace(0, 120, len(vals))
    idx = "" if i == 0 else str(i + 1)
    fig.add_trace(go.Scatter(
        x=t, y=vals, mode="lines",
        line=dict(color=LINE_COLOR, width=0.9),
        xaxis="x" + idx, yaxis="y" + idx,
        hoverinfo="skip",
    ))
    common = dict(
        showgrid=False, zeroline=False, automargin=False,
        showline=True, linecolor=AXIS_COLOR, linewidth=1, mirror="ticks",
        ticks="inside", ticklen=3, tickcolor=AXIS_COLOR, tickwidth=1,
        tickfont=TICK_FONT,
    )
    layout["xaxis" + idx] = dict(
        domain=[x0 / W, x1 / W], anchor="y" + idx,
        range=[0, 120], tickvals=x_ticks, ticktext=x_ticktext, **common,
    )
    layout["yaxis" + idx] = dict(
        domain=[1 - y1 / H, 1 - y0 / H], anchor="x" + idx,
        range=[-4, 4], tickvals=y_ticks, ticktext=y_ticktext, **common,
    )
    # subplot title
    annotations.append(dict(
        text="<b>" + title + "</b>", xref="paper", yref="paper",
        x=(x0 + x1) / 2 / W, y=1 - (y0 - 12) / H,
        xanchor="center", yanchor="middle", showarrow=False,
        font=dict(family=SERIF_BOLD, size=12.5, color="#111111"),
    ))
    if c == 0:
        annotations.append(dict(
            text="<b>" + y_label + "</b>", xref="paper", yref="paper",
            x=15 / W, y=1 - ((y0 + y1) / 2) / H, textangle=-90,
            xanchor="center", yanchor="middle", showarrow=False,
            font=dict(family=SERIF_BOLD, size=12.5, color="#222222"),
        ))
    if r == 3:
        annotations.append(dict(
            text="<b>" + x_label + "</b>", xref="paper", yref="paper",
            x=(x0 + x1) / 2 / W, y=1 - (y1 + 31) / H,
            xanchor="center", yanchor="middle", showarrow=False,
            font=dict(family=SERIF_BOLD, size=12.5, color="#222222"),
        ))

layout["annotations"] = annotations
fig.update_layout(**layout)
# remove the browser's default 8px page margin so the figure sits at the window origin
fig.write_html(
    "out.html",
    config={"displayModeBar": False},
    post_script="document.body.style.margin='0px';",
)
